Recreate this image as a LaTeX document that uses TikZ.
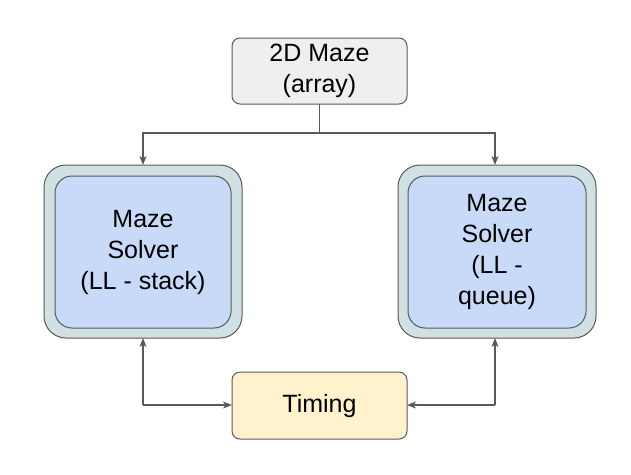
\documentclass[tikz,border=0pt]{standalone}
\usepackage{fontspec}
\setmainfont{Liberation Sans}
\usetikzlibrary{arrows.meta}
\definecolor{edgegray}{HTML}{595959}
\definecolor{mazefill}{HTML}{EFEFEF}
\definecolor{outerfill}{HTML}{D0E0E3}
\definecolor{innerfill}{HTML}{C9DAF8}
\definecolor{timefill}{HTML}{FFF2CC}
\begin{document}
\begin{tikzpicture}[x=1pt,y=-1pt,
  box/.style={draw=edgegray, line width=1pt},
  lbl/.style={font=\fontsize{25}{31}\selectfont, align=center, text=black},
  conn/.style={draw=edgegray, line width=1.2pt},
  tip/.style={-{Stealth[length=9pt,width=7pt,inset=2.5pt]}}]
\useasboundingbox (0,0) rectangle (631,474);
% boxes
\draw[box, fill=mazefill, rounded corners=8pt] (232,38) rectangle (407,104);
\node[lbl] (maze) at (319.5,71) {2D Maze\\(array)};
\coordinate (mazeB) at (319.5,104);

\draw[box, fill=outerfill, rounded corners=22pt] (44,165) rectangle (242,338);
\draw[box, fill=innerfill, rounded corners=17pt] (55,176) rectangle (231,328);
\node[lbl] (ls) at (143,252) {Maze\\Solver\\(LL - stack)};
\coordinate (lsT) at (143,165);
\coordinate (lsB) at (143,338);

\draw[box, fill=outerfill, rounded corners=22pt] (398,165) rectangle (596,338);
\draw[box, fill=innerfill, rounded corners=17pt] (408,176) rectangle (586,328);
\node[lbl] (rs) at (497,252) {Maze\\Solver\\(LL -\\queue)};
\coordinate (rsT) at (495,165);
\coordinate (rsB) at (495,338);

\draw[box, fill=timefill, rounded corners=8pt] (232,372) rectangle (407,439);
\node[lbl] (tm) at (319.5,406) {Timing};
\coordinate (tmL) at (232,405);
\coordinate (tmR) at (407,405);

% connectors
\coordinate (j) at (319.5,133);
\draw[conn] (mazeB) -- (j);
\draw[conn, tip] (j) -| (lsT);
\draw[conn, tip] (j) -| (rsT);
\draw[conn, tip] (143,405) -- (lsB);
\draw[conn, tip] (143,405) -- (tmL);
\draw[conn, tip] (495,405) -- (rsB);
\draw[conn, tip] (495,405) -- (tmR);
\end{tikzpicture}
\end{document}
